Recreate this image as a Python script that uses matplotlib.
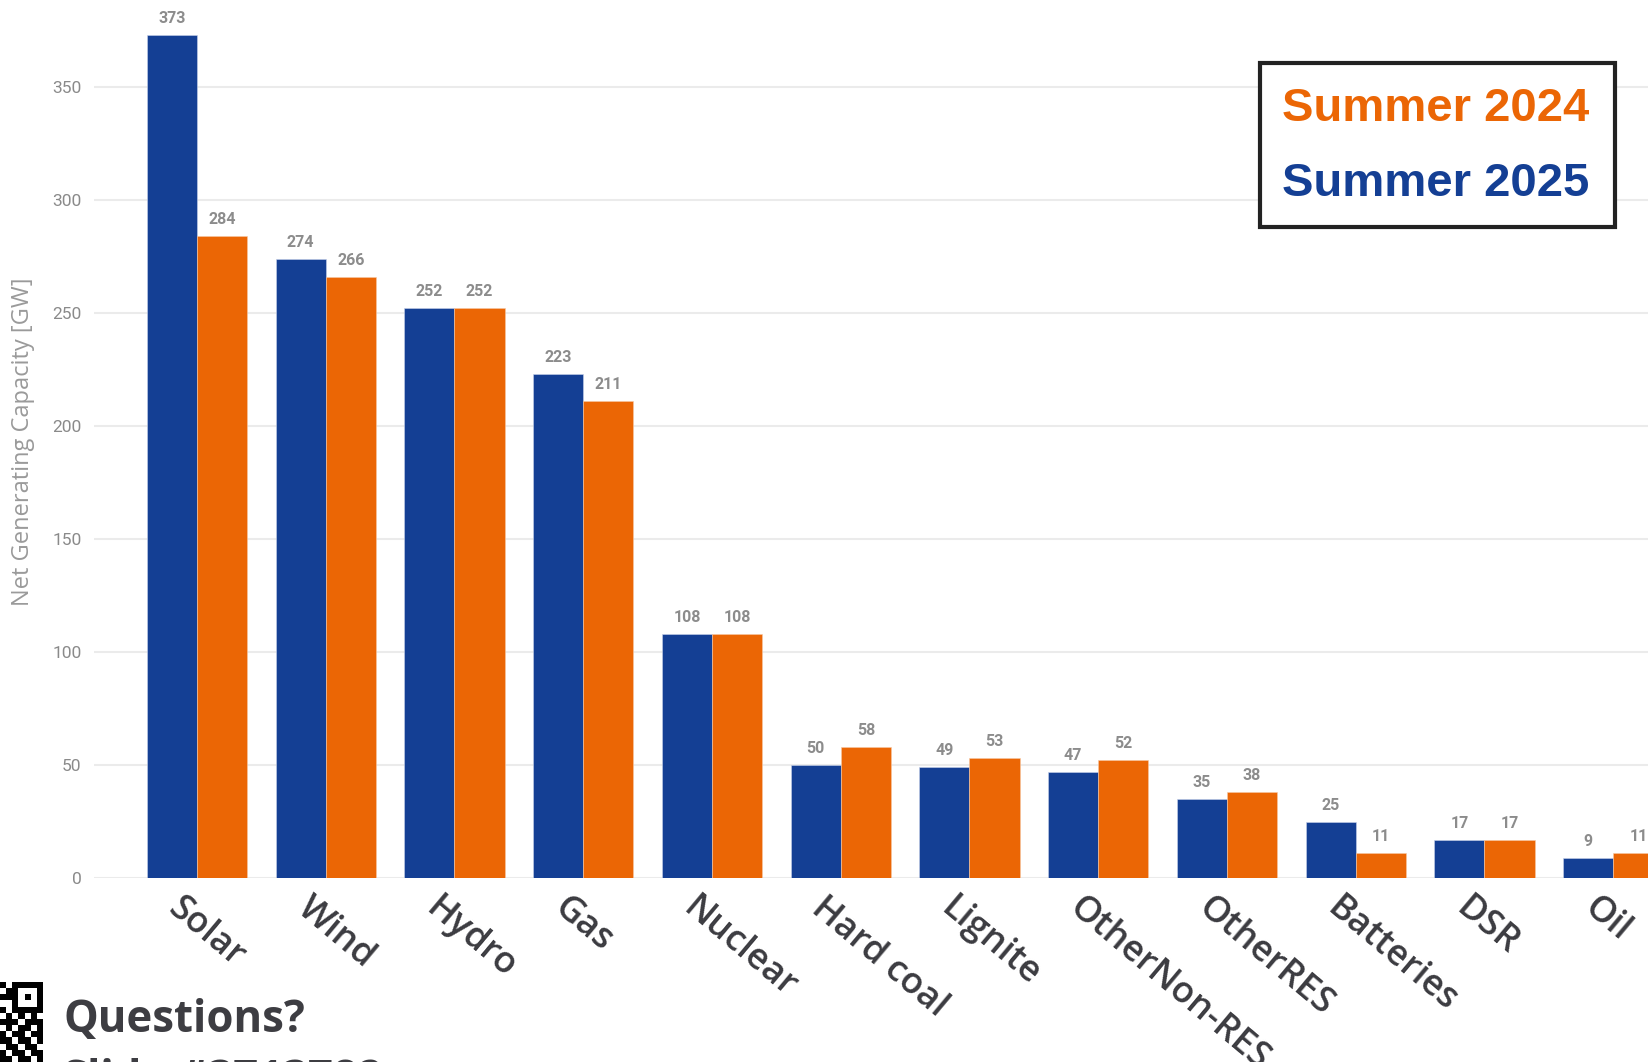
import numpy as np
import matplotlib
matplotlib.use('Agg')
import matplotlib.pyplot as plt
from matplotlib.patches import Rectangle
from matplotlib.transforms import ScaledTranslation

# data
categories = ['Solar', 'Wind', 'Hydro', 'Gas', 'Nuclear', 'Hard coal', 'Lignite',
              'OtherNon-RES', 'OtherRES', 'Batteries', 'DSR', 'Oil']
summer_2025 = [373, 274, 252, 223, 108, 50, 49, 47, 35, 25, 17, 9]
summer_2024 = [284, 266, 252, 211, 108, 58, 53, 52, 38, 11, 17, 11]
y_ticks = [0, 50, 100, 150, 200, 250, 300, 350]

BLUE = '#143f94'
ORANGE = '#eb6605'

fig = plt.figure(figsize=(16.48, 10.62), dpi=100)
ax = fig.add_axes([94 / 1648, (1062 - 878) / 1062, 1 - 94 / 1648, 878 / 1062])

x = np.arange(len(categories))
w = 0.39
b1 = ax.bar(x - w / 2, summer_2025, w, color=BLUE, edgecolor='#c9d3ea', linewidth=0.4, zorder=3)
b2 = ax.bar(x + w / 2, summer_2024, w, color=ORANGE, edgecolor='#f6c9a6', linewidth=0.4, zorder=3)

for bars, vals in ((b1, summer_2025), (b2, summer_2024)):
    for rect, v in zip(bars, vals):
        ax.annotate(str(v), (rect.get_x() + rect.get_width() / 2, v),
                    xytext=(0, 9), textcoords='offset pixels', ha='center', va='bottom',
                    fontsize=11.5, fontweight='bold', color='#8c8c8c', family='Roboto')

ax.set_xlim(-0.80, 11.27)
ax.set_ylim(0, 388.5)
ax.set_yticks(y_ticks)
ax.set_yticklabels([str(t) for t in y_ticks], fontsize=12.5, color='#8a8a8a', family='Roboto')
ax.tick_params(axis='y', length=0, pad=9)
ax.set_xticks([])
ax.grid(axis='y', color='#ebebeb', linewidth=1.5, zorder=0)
for s in ax.spines.values():
    s.set_visible(False)

# rotated category labels, anchored just left of each group centre
lbl_off = ScaledTranslation(-13 / 100, -12 / 100, fig.dpi_scale_trans)
for i, name in enumerate(categories):
    ax.text(i, 0, name, transform=ax.get_xaxis_transform() + lbl_off,
            rotation=-40, rotation_mode='anchor', ha='left', va='top',
            fontsize=26, fontweight='semibold', color='#3b3b40', family='Open Sans',
            clip_on=False)

fig.text(23 / 1648, 1 - 442 / 1062, 'Net Generating Capacity [GW]', rotation=90,
         ha='center', va='center', fontsize=17, color='#9a9a9a', family='Open Sans')

# legend box
fig.add_artist(Rectangle((1260 / 1648, 1 - 227 / 1062), 355 / 1648, 164 / 1062,
                         transform=fig.transFigure, facecolor='white', edgecolor='#222222',
                         linewidth=3, zorder=5))
fig.text(1436 / 1648, 1 - 109 / 1062, 'Summer 2024', ha='center', va='center',
         fontsize=34, fontweight='bold', color=ORANGE, family='Liberation Sans', zorder=6)
fig.text(1436 / 1648, 1 - 184 / 1062, 'Summer 2025', ha='center', va='center',
         fontsize=34, fontweight='bold', color=BLUE, family='Liberation Sans', zorder=6)

# footer
fig.text(63 / 1648, 1 - 1032 / 1062, 'Questions?', ha='left', va='baseline',
         fontsize=31.5, fontweight='bold', color='#3d3d42', family='Open Sans')
fig.text(63 / 1648, 1 - 1092 / 1062, 'Slido #3713782', ha='left', va='baseline',
         fontsize=31.5, fontweight='bold', color='#3d3d42', family='Open Sans')

# QR code corner (partial)
qr = np.array([
    [1, 0, 1, 1, 1, 1, 1],
    [0, 1, 1, 0, 0, 0, 1],
    [1, 1, 1, 0, 1, 0, 1],
    [0, 0, 1, 0, 0, 0, 1],
    [1, 0, 1, 1, 1, 1, 1],
    [0, 1, 0, 1, 0, 1, 0],
    [1, 1, 1, 0, 1, 1, 1],
    [0, 1, 0, 1, 1, 0, 1],
    [1, 0, 1, 1, 0, 1, 1],
    [1, 1, 0, 1, 1, 0, 1],
    [0, 1, 1, 0, 1, 1, 0],
    [1, 0, 1, 1, 0, 1, 1],
    [1, 1, 0, 1, 1, 0, 1],
])
qax = fig.add_axes([0, 0, 43 / 1648, 80 / 1062])
qax.imshow(1 - qr, cmap='gray', interpolation='nearest', aspect='auto')
qax.axis('off')

fig.savefig('out.png', dpi=100)
